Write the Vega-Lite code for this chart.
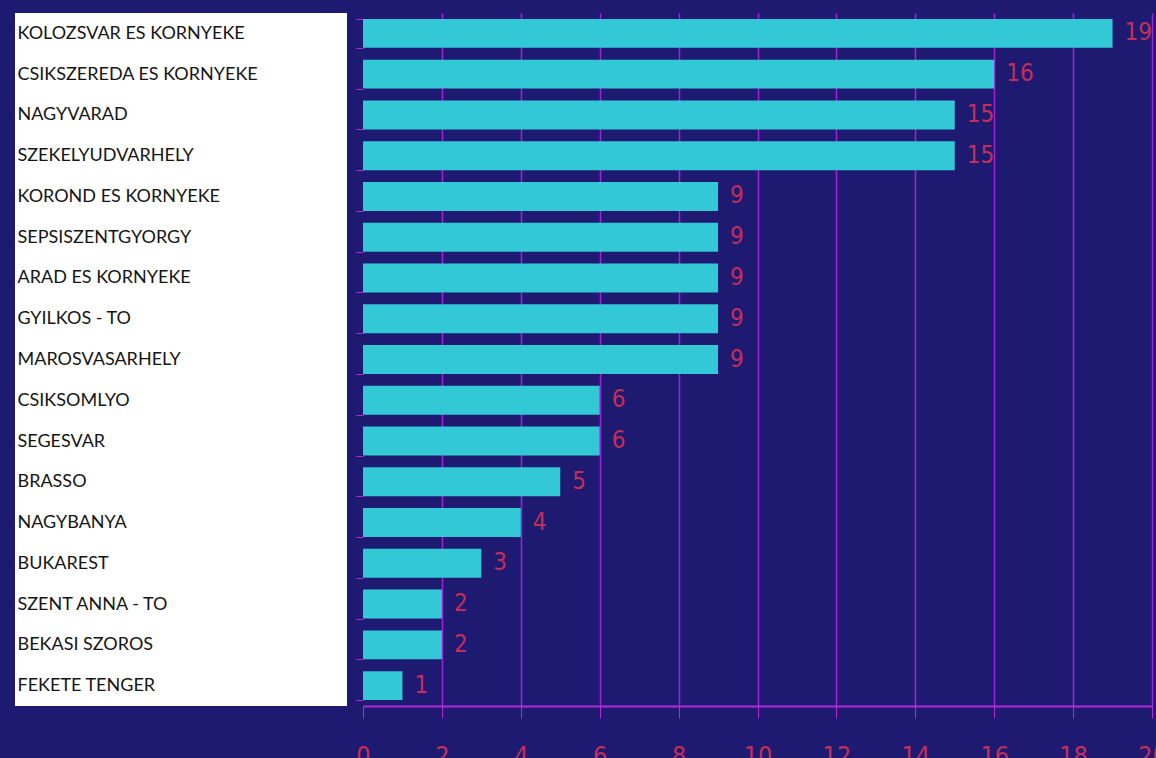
{
  "$schema": "https://vega.github.io/schema/vega-lite/v6.json",
  "background": "#1e1a72",
  "padding": {"left": 15, "top": 4, "right": 0, "bottom": 0},
  "autosize": {"type": "pad"},
  "config": {"view": {"stroke": null}},
  "data": {"values": [
    {"place": "KOLOZSVAR ES KORNYEKE", "count": 19},
    {"place": "CSIKSZEREDA ES KORNYEKE", "count": 16},
    {"place": "NAGYVARAD", "count": 15},
    {"place": "SZEKELYUDVARHELY", "count": 15},
    {"place": "KOROND ES KORNYEKE", "count": 9},
    {"place": "SEPSISZENTGYORGY", "count": 9},
    {"place": "ARAD ES KORNYEKE", "count": 9},
    {"place": "GYILKOS - TO", "count": 9},
    {"place": "MAROSVASARHELY", "count": 9},
    {"place": "CSIKSOMLYO", "count": 6},
    {"place": "SEGESVAR", "count": 6},
    {"place": "BRASSO", "count": 5},
    {"place": "NAGYBANYA", "count": 4},
    {"place": "BUKAREST", "count": 3},
    {"place": "SZENT ANNA - TO", "count": 2},
    {"place": "BEKASI SZOROS", "count": 2},
    {"place": "FEKETE TENGER", "count": 1}
  ]},
  "bounds": "flush",
  "spacing": 16,
  "hconcat": [
    {
      "width": 332,
      "height": 693,
      "view": {"fill": "white", "stroke": null},
      "mark": {"type": "text", "opacity": 0},
      "encoding": {"y": {"field": "place", "type": "nominal", "axis": null}}
    },
    {
      "width": 789,
      "height": 693,
      "encoding": {
        "y": {
          "field": "place",
          "type": "nominal",
          "sort": ["KOLOZSVAR ES KORNYEKE", "CSIKSZEREDA ES KORNYEKE", "NAGYVARAD", "SZEKELYUDVARHELY", "KOROND ES KORNYEKE", "SEPSISZENTGYORGY", "ARAD ES KORNYEKE", "GYILKOS - TO", "MAROSVASARHELY", "CSIKSOMLYO", "SEGESVAR", "BRASSO", "NAGYBANYA", "BUKAREST", "SZENT ANNA - TO", "BEKASI SZOROS", "FEKETE TENGER"],
          "scale": {"paddingInner": 0.29, "paddingOuter": 0.145},
          "axis": {
            "title": null,
            "domain": false,
            "grid": false,
            "ticks": true,
            "tickBand": "extent",
            "tickSize": 7,
            "tickColor": "#b02ad8",
            "labelAlign": "left",
            "labelPadding": 339,
            "labelFont": "Lato",
            "labelFontSize": 18,
            "labelColor": "#151515",
            "labelLimit": 0
          }
        },
        "x": {
          "field": "count",
          "type": "quantitative",
          "scale": {"domain": [0, 20], "nice": false},
          "axis": {
            "title": null,
            "values": [0, 2, 4, 6, 8, 10, 12, 14, 16, 18, 20],
            "domainColor": "#b02ad8",
            "domainWidth": 2,
            "tickColor": "#b02ad8",
            "tickSize": 12,
            "labelPadding": 25,
            "labelBaseline": "top",
            "labelColor": "#c42e5a",
            "labelFont": "Liberation Sans Narrow, DejaVu Sans Condensed",
            "labelFontSize": 25,
            "labelFlush": false,
            "labelOverlap": false,
            "grid": true,
            "gridColor": {"condition": {"test": "datum.value === 0", "value": "transparent"}, "value": "#a024d4"},
            "gridWidth": 1.5
          }
        }
      },
      "layer": [
        {"mark": {"type": "bar", "color": "#33c8d6"}},
        {
          "mark": {"type": "text", "align": "left", "baseline": "middle", "dx": 12, "font": "Liberation Sans Narrow, DejaVu Sans Condensed", "fontSize": 24, "color": "#c42e5a"},
          "encoding": {"text": {"field": "count", "type": "quantitative"}}
        }
      ]
    }
  ]
}
